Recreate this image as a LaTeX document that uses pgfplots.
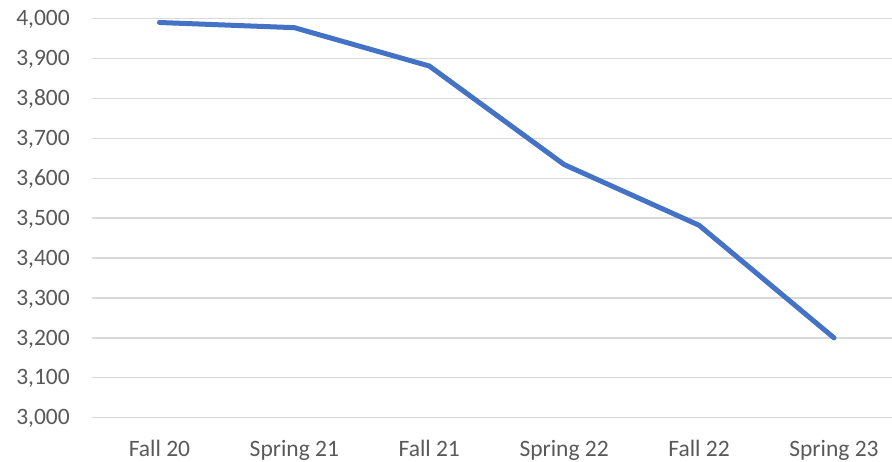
\documentclass[border=0pt]{standalone}
\usepackage{fontspec}
\setmainfont{Carlito}
\usepackage{pgfplots}
\pgfplotsset{compat=1.18}
\definecolor{linecol}{HTML}{4472C4}
\definecolor{gridcol}{HTML}{D9D9D9}
\definecolor{textcol}{HTML}{595959}
\begin{document}
\fontsize{23.5bp}{28bp}\selectfont
\begin{tikzpicture}
\begin{axis}[
  scale only axis,
  width=800bp, height=399.2bp,
  xmin=-0.5, xmax=5.43,
  ymin=3000, ymax=4000,
  ytick={3000,3100,...,4000},
  xtick={0,1,2,3,4,5},
  xticklabels={Fall 20,Spring 21,Fall 21,Spring 22,Fall 22,Spring 23},
  axis line style={draw=none},
  major tick length=0pt,
  ymajorgrids,
  grid style={draw=gridcol, line width=1.3bp},
  /pgf/number format/assume math mode=true,
  /pgf/number format/1000 sep={,},
  tick label style={font=\fontsize{23.5bp}{28bp}\selectfont, text=textcol, inner sep=0pt},
  yticklabel style={anchor=base east, xshift=-22bp, yshift=-7.2bp},
  xticklabel style={anchor=base, yshift=-39bp},
]
\addplot[draw=linecol, line width=5bp, line cap=round, line join=round] coordinates {
  (0,3990) (1,3977) (2,3881) (3,3634) (4,3482) (5,3200)
};
\coordinate (sw) at (rel axis cs:0,0);
\coordinate (ne) at (rel axis cs:1,1);
\end{axis}
\pgfresetboundingbox
\path ([shift={(-92bp,-44.3bp)}]sw) rectangle ([shift={(0bp,18.5bp)}]ne);
\end{tikzpicture}
\end{document}
